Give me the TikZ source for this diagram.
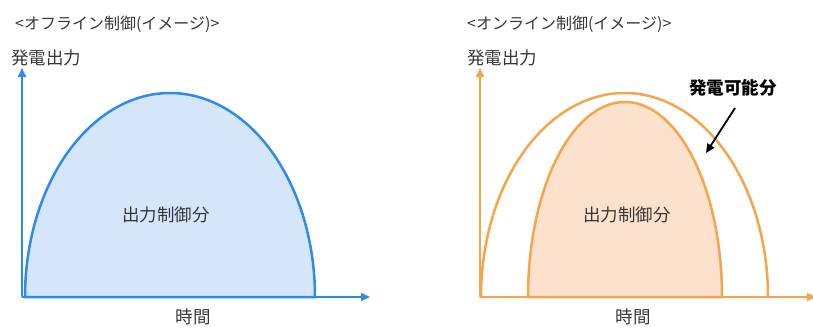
\documentclass[tikz,border=0pt]{standalone}
\usepackage{fontspec}
\setmainfont{Noto Sans CJK JP}
\usetikzlibrary{arrows.meta}
\definecolor{bblue}{RGB}{45,140,235}
\definecolor{bfill}{RGB}{214,230,250}
\definecolor{oor}{RGB}{245,165,75}
\definecolor{ofill}{RGB}{252,226,204}
\definecolor{txt}{RGB}{55,55,55}
\tikzset{
  title/.style={text=txt,font=\fontsize{16}{16}\selectfont,inner sep=0pt,anchor=west},
  lab/.style={text=txt,font=\fontsize{17.5}{17.5}\selectfont,inner sep=0pt},
  axisb/.style={bblue,line width=2pt,-{Triangle[length=9pt,width=8pt]}},
  axiso/.style={oor,line width=2pt,-{Triangle[length=9pt,width=8pt]}},
  curveb/.style={bblue,line width=2.5pt,fill=bfill},
  curveo/.style={oor,line width=2.5pt},
}
\begin{document}
\begin{tikzpicture}[x=1pt,y=-1pt]
\useasboundingbox (0,0) rectangle (813,327);
% ---------- left panel ----------
\node[title] (t1) at (15,24) {<オフライン制御(イメージ)>};
\node[lab,anchor=west] (yl1) at (11,58) {発電出力};
\coordinate (o1) at (22,297);
\coordinate (ytop1) at (22,68);
\coordinate (xend1) at (370,297);
\draw[curveb] plot[domain=180:0,samples=90,smooth] ({170+145*cos(\x)},{297-204*sin(\x)}) -- cycle;
\draw[axisb] (o1) -- (ytop1);
\draw[axisb] (o1) -- (xend1);
\node[lab] (c1) at (166,215) {出力制御分};
\node[lab] (x1) at (193,317) {時間};
% ---------- right panel ----------
\node[title] (t2) at (467,24) {<オンライン制御(イメージ)>};
\node[lab,anchor=west] (yl2) at (467,58) {発電出力};
\coordinate (o2) at (480,297);
\coordinate (ytop2) at (480,68);
\coordinate (xend2) at (816,297);
\draw[curveo] plot[domain=180:0,samples=90,smooth] ({624.5+143.5*cos(\x)},{297-204*sin(\x)});
\draw[curveo,fill=ofill] plot[domain=180:0,samples=90,smooth] ({625+97*cos(\x)},{297-195*sin(\x)}) -- cycle;
\draw[axiso] (o2) -- (ytop2);
\draw[axiso] (o2) -- (xend2);
\node[lab] (c2) at (627,215) {出力制御分};
\node[lab] (x2) at (633,317) {時間};
\node[lab,font=\fontsize{17.5}{17.5}\selectfont\bfseries,text=black] (k) at (733,88) {発電可能分};
\coordinate (ktip) at (706,153);
\draw[black,line width=1.8pt,-{Triangle[length=9pt,width=8pt]}] (735,108) -- (ktip);
\end{tikzpicture}
\end{document}
